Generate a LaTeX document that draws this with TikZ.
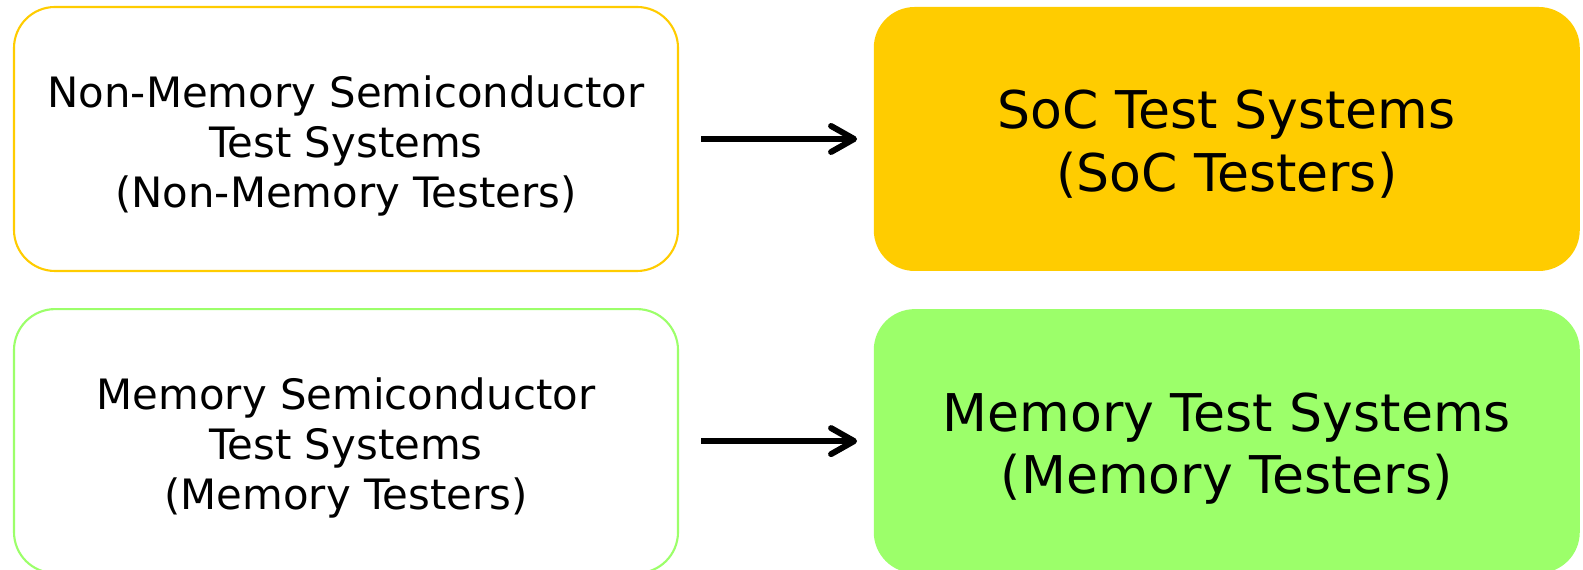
\documentclass[tikz,border=0pt]{standalone}
\usepackage{fontspec}
\setmainfont{DejaVu Sans}
\usetikzlibrary{positioning,arrows.meta}

\definecolor{socyellow}{HTML}{FFCC00}
\definecolor{memgreen}{HTML}{9CFF6A}

\tikzset{
	kind/.style={draw, fill=white, rounded corners=0.41cm, line width=0.6pt,
		minimum width=6.64cm, minimum height=2.64cm, align=center,
		text height=42pt, text depth=3pt,
		font=\fontsize{11.9}{14.2}\selectfont},
	tester/.style={rounded corners=0.41cm, minimum width=7.06cm,
		minimum height=2.64cm, align=center,
		text height=33.1pt, text depth=3pt,
		font=\fontsize{14.8}{17.9}\selectfont},
	goes/.style={line width=1.7pt, -{Straight Barb[length=2.3mm,width=2.6mm,round]},
		shorten <=0.22cm, shorten >=0.16cm}
}

\begin{document}
\begin{tikzpicture}
	\useasboundingbox (0,0) rectangle (15.83,-5.70);
	% old names on the left
	\node[kind, draw=socyellow] (nonmem) at (3.46,-1.39)
		{Non-Memory Semiconductor\\Test Systems\\(Non-Memory Testers)};
	\node[kind, draw=memgreen, below=0.36cm of nonmem] (mem)
		{Memory Semiconductor\\Test Systems\\(Memory Testers)};
	% new names on the right
	\node[tester, fill=socyellow, right=1.94cm of nonmem] (soc)
		{SoC Test Systems\\(SoC Testers)};
	\node[tester, fill=memgreen, right=1.94cm of mem] (memtest)
		{Memory Test Systems\\(Memory Testers)};
	\draw[goes] (nonmem) -- (soc);
	\draw[goes] (mem) -- (memtest);
\end{tikzpicture}
\end{document}
